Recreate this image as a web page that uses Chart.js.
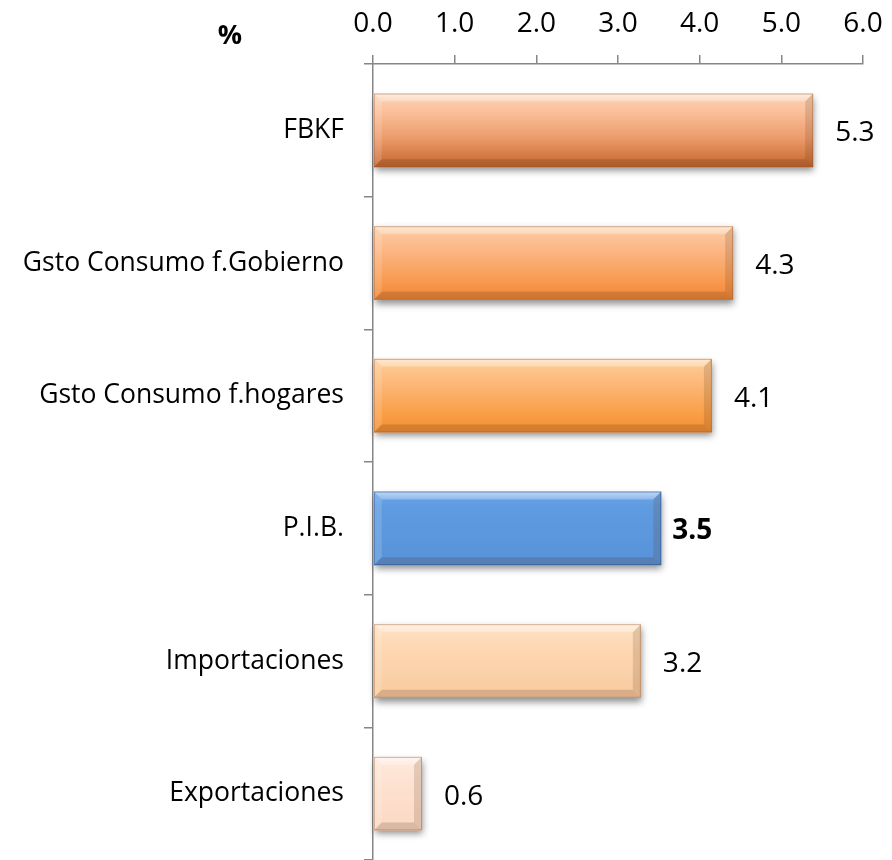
<!DOCTYPE html>
<html>
<head>
<meta charset="utf-8">
<script src="https://cdn.jsdelivr.net/npm/chart.js@4"></script>
<style>
html,body{margin:0;padding:0;background:#fff;}
#wrap{position:relative;width:892px;height:860px;}
</style>
</head>
<body>
<div id="wrap"><canvas id="c" width="892" height="860"></canvas></div>
<script>
const categories = ["FBKF", "Gsto Consumo f.Gobierno", "Gsto Consumo f.hogares", "P.I.B.", "Importaciones", "Exportaciones"];
const values = [5.39, 4.41, 4.15, 3.53, 3.28, 0.60];
const valueLabels = ["5.3", "4.3", "4.1", "3.5", "3.2", "0.6"];
const xTicks = [0, 1, 2, 3, 4, 5, 6];
const unitLabel = "%";

// gradient stops per bar (top -> bottom)
const barStops = [
  [[0,"#FCD6BA"],[0.25,"#FBBF9A"],[0.6,"#EC9C6C"],[1,"#C4652C"]],
  [[0,"#FDCDA6"],[0.3,"#FCB887"],[0.75,"#F89A50"],[1,"#EE8434"]],
  [[0,"#FDCE9A"],[0.3,"#FCBA7C"],[0.75,"#FA9E46"],[1,"#F28E31"]],
  [[0,"#70A8EA"],[0.2,"#5F9BE0"],[1,"#5893DA"]],
  [[0,"#FEE2C6"],[0.3,"#FDD8B3"],[1,"#F9CA9F"]],
  [[0,"#FEEADC"],[0.3,"#FDE3D2"],[1,"#FBD8C2"]]
];
const barPct = 0.555;
const FONT = '"Open Sans", "Noto Sans", sans-serif';

function barGradient(context) {
  const chart = context.chart;
  const ys = chart.scales.y;
  const i = context.dataIndex;
  const stops = barStops[i];
  if (!ys || ys.height == null || isNaN(ys.getPixelForValue(i))) return stops[1][1];
  const cy = ys.getPixelForValue(i);
  const h = ys.height / categories.length * barPct;
  const g = chart.ctx.createLinearGradient(0, cy - h/2, 0, cy + h/2);
  stops.forEach(s => g.addColorStop(s[0], s[1]));
  return g;
}

const bevelPlugin = {
  id: 'bevel',
  beforeDatasetsDraw(chart) {
    const ctx = chart.ctx;
    const meta = chart.getDatasetMeta(0);
    ctx.save();
    meta.data.forEach(el => {
      const l = Math.min(el.base, el.x), r = Math.max(el.base, el.x);
      const t = el.y - el.height/2, b = el.y + el.height/2;
      ctx.shadowColor = 'rgba(0,0,0,0.45)';
      ctx.shadowBlur = 7;
      ctx.shadowOffsetX = 1;
      ctx.shadowOffsetY = 4;
      ctx.fillStyle = '#fff';
      ctx.fillRect(l, t, r - l, b - t);
    });
    ctx.restore();
  },
  afterDatasetsDraw(chart) {
    const ctx = chart.ctx;
    const meta = chart.getDatasetMeta(0);
    ctx.save();
    meta.data.forEach((el, i) => {
      const l = Math.min(el.base, el.x), r = Math.max(el.base, el.x);
      const t = el.y - el.height/2, b = el.y + el.height/2;
      const d = Math.min(8, (r - l) / 3);
      let g = ctx.createLinearGradient(0, t, 0, t + d);
      g.addColorStop(0, 'rgba(255,255,255,0.55)');
      g.addColorStop(1, 'rgba(255,255,255,0.25)');
      ctx.fillStyle = g;
      ctx.beginPath();
      ctx.moveTo(l, t); ctx.lineTo(r, t); ctx.lineTo(r - d, t + d); ctx.lineTo(l + d, t + d); ctx.closePath();
      ctx.fill();
      ctx.fillStyle = 'rgba(255,255,255,0.15)';
      ctx.beginPath();
      ctx.moveTo(l, t); ctx.lineTo(l + d, t + d); ctx.lineTo(l + d, b - d); ctx.lineTo(l, b); ctx.closePath();
      ctx.fill();
      ctx.fillStyle = 'rgba(90,50,20,0.16)';
      ctx.beginPath();
      ctx.moveTo(r, t); ctx.lineTo(r, b); ctx.lineTo(r - d, b - d); ctx.lineTo(r - d, t + d); ctx.closePath();
      ctx.fill();
      ctx.fillStyle = 'rgba(70,40,15,0.18)';
      ctx.beginPath();
      ctx.moveTo(l, b); ctx.lineTo(r, b); ctx.lineTo(r - d, b - d); ctx.lineTo(l + d, b - d); ctx.closePath();
      ctx.fill();
      ctx.strokeStyle = i === 3 ? 'rgba(40,80,140,0.55)' : 'rgba(150,90,50,0.45)';
      ctx.lineWidth = 1;
      ctx.strokeRect(l + 0.5, t + 0.5, r - l - 1, b - t - 1);
      ctx.fillStyle = '#000';
      ctx.font = (i === 3 ? 'bold ' : '') + '28px ' + FONT;
      ctx.textAlign = 'left';
      ctx.textBaseline = 'middle';
      ctx.fillText(valueLabels[i], r + (i === 3 ? 11 : 22), el.y + 3);
    });
    ctx.fillStyle = '#000';
    ctx.font = 'bold 27px ' + FONT;
    ctx.textAlign = 'center';
    ctx.textBaseline = 'middle';
    ctx.fillText(unitLabel, 230, 36);
    ctx.restore();
  }
};

new Chart(document.getElementById('c'), {
  type: 'bar',
  data: {
    labels: categories,
    datasets: [{
      data: values,
      backgroundColor: barGradient,
      borderWidth: 0,
      barPercentage: barPct,
      categoryPercentage: 1.0
    }]
  },
  options: {
    indexAxis: 'y',
    responsive: false,
    animation: false,
    devicePixelRatio: 1,
    layout: { padding: { left: 0, right: 29, top: 0, bottom: 0 } },
    plugins: { legend: { display: false }, tooltip: { enabled: false } },
    scales: {
      x: {
        position: 'top',
        min: 0, max: 6,
        afterBuildTicks(scale) { scale.ticks = xTicks.map(v => ({ value: v })); },
        afterFit(scale) { scale.height = 64; scale.paddingLeft = 0; scale.paddingRight = 0; },
        ticks: {
          callback: v => Number(v).toFixed(1),
          color: '#000',
          font: { size: 28, family: FONT },
          padding: 14,
          maxRotation: 0
        },
        grid: { drawOnChartArea: false, drawTicks: true, tickLength: 9, color: '#868686', lineWidth: 1.5 },
        border: { display: true, color: '#868686', width: 1.5 }
      },
      y: {
        afterFit(scale) { scale.width = 373; scale.paddingTop = 0; scale.paddingBottom = 0; },
        ticks: {
          color: '#000',
          font: { size: 26.5, family: FONT },
          padding: 20
        },
        grid: { drawOnChartArea: false, drawTicks: true, tickLength: 9, color: '#868686', lineWidth: 1.5, offset: true },
        border: { display: true, color: '#868686', width: 1.5 }
      }
    }
  },
  plugins: [bevelPlugin]
});
</script>
</body>
</html>
